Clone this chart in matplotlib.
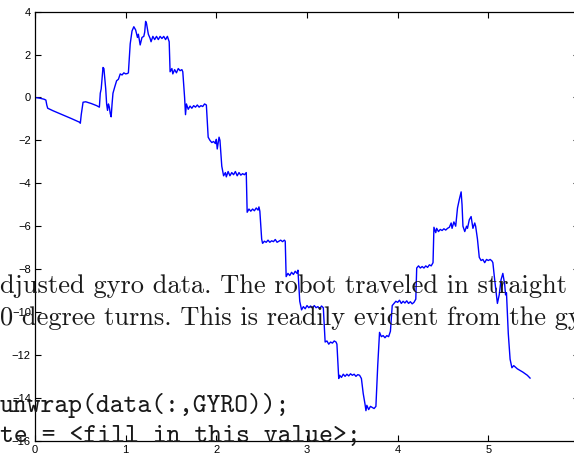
import matplotlib.pyplot as plt
from matplotlib import rc

# Gyro angle (rad) vs time
TIME = [0.00, 0.05, 0.10, 0.12, 0.13, 0.14, 0.20, 0.30, 0.40, 0.49, 0.50, 0.51, 0.53, 0.56, 0.62, 0.68,
        0.71, 0.72, 0.73, 0.75, 0.76, 0.78, 0.79, 0.80, 0.81, 0.82, 0.83, 0.84, 0.85, 0.86, 0.88, 0.90,
        0.92, 0.94, 0.96, 0.98, 1.00, 1.02, 1.03, 1.05, 1.07, 1.09, 1.11, 1.13, 1.14, 1.16, 1.18, 1.20,
        1.21, 1.22, 1.23, 1.25, 1.27, 1.28, 1.30, 1.32, 1.34, 1.36, 1.38, 1.40, 1.42, 1.44, 1.46, 1.48,
        1.49, 1.51, 1.52, 1.54, 1.56, 1.58, 1.60, 1.62, 1.63, 1.65, 1.66, 1.67, 1.69, 1.71, 1.73, 1.75,
        1.77, 1.79, 1.81, 1.83, 1.85, 1.87, 1.89, 1.91, 1.93, 1.95, 1.97, 1.99, 2.00, 2.01, 2.03, 2.04,
        2.06, 2.08, 2.10, 2.11, 2.13, 2.15, 2.17, 2.19, 2.21, 2.23, 2.25, 2.27, 2.29, 2.31, 2.33, 2.34,
        2.36, 2.38, 2.40, 2.42, 2.44, 2.46, 2.47, 2.48, 2.50, 2.51, 2.53, 2.55, 2.57, 2.59, 2.61, 2.63,
        2.65, 2.67, 2.69, 2.71, 2.73, 2.75, 2.76, 2.77, 2.79, 2.81, 2.83, 2.85, 2.87, 2.89, 2.90, 2.92,
        2.94, 2.96, 2.98, 3.00, 3.02, 3.04, 3.06, 3.08, 3.10, 3.12, 3.14, 3.16, 3.18, 3.20, 3.22, 3.24,
        3.26, 3.28, 3.30, 3.32, 3.33, 3.35, 3.36, 3.38, 3.40, 3.42, 3.44, 3.46, 3.48, 3.50, 3.52, 3.54,
        3.56, 3.58, 3.60, 3.62, 3.64, 3.65, 3.66, 3.68, 3.70, 3.72, 3.74, 3.76, 3.78, 3.80, 3.82, 3.84,
        3.86, 3.88, 3.90, 3.92, 3.94, 3.96, 3.98, 4.00, 4.02, 4.04, 4.06, 4.08, 4.10, 4.12, 4.14, 4.16,
        4.18, 4.20, 4.21, 4.23, 4.25, 4.27, 4.29, 4.31, 4.33, 4.35, 4.37, 4.39, 4.40, 4.42, 4.43, 4.45,
        4.47, 4.49, 4.51, 4.53, 4.55, 4.57, 4.59, 4.60, 4.62, 4.64, 4.66, 4.68, 4.70, 4.71, 4.72, 4.74,
        4.76, 4.77, 4.79, 4.81, 4.83, 4.85, 4.86, 4.88, 4.90, 4.92, 4.94, 4.96, 4.98, 5.00, 5.02, 5.04,
        5.05, 5.07, 5.10, 5.12, 5.14, 5.16, 5.18, 5.19, 5.20, 5.22, 5.24, 5.26, 5.28, 5.32, 5.38, 5.43,
        5.46]
ANGLE = [0.00, -0.03, -0.08, -0.12, -0.35, -0.50, -0.62, -0.80, -0.98, -1.15, -1.20, -0.80, -0.22, -0.20, -0.28, -0.38,
         -0.45, 0.20, 0.40, 1.40, 1.35, 0.40, -0.30, -0.60, -0.30, -0.45, -0.75, -0.90, -0.30, 0.20, 0.50, 0.78,
         0.85, 1.10, 1.05, 1.15, 1.10, 1.12, 1.15, 2.50, 3.10, 3.30, 3.15, 2.80, 2.95, 2.45, 2.80, 2.85,
         3.05, 3.55, 3.45, 2.95, 2.75, 2.60, 2.85, 2.70, 2.85, 2.70, 2.85, 2.75, 2.85, 2.70, 2.85, 2.60,
         1.20, 1.35, 1.10, 1.30, 1.15, 1.35, 1.25, 1.30, 1.20, 0.00, -0.80, -0.30, -0.55, -0.40, -0.50, -0.38,
         -0.45, -0.35, -0.45, -0.38, -0.42, -0.30, -0.35, -1.85, -2.00, -2.10, -2.05, -2.15, -1.95, -2.40, -1.85, -2.00,
         -3.20, -3.65, -3.50, -3.70, -3.45, -3.65, -3.50, -3.60, -3.45, -3.65, -3.50, -3.62, -3.55, -3.60, -3.50, -5.35,
         -5.20, -5.30, -5.20, -5.28, -5.15, -5.25, -5.10, -5.30, -6.60, -6.80, -6.70, -6.75, -6.65, -6.75, -6.68, -6.72,
         -6.62, -6.75, -6.70, -6.65, -6.72, -6.65, -6.70, -8.35, -8.20, -8.30, -8.15, -8.25, -8.10, -8.20, -8.05, -9.50,
         -9.90, -9.75, -9.85, -9.70, -9.80, -9.72, -9.82, -9.70, -9.80, -9.75, -9.85, -9.72, -9.80, -11.40, -11.35, -11.50,
         -11.40, -11.45, -11.35, -11.40, -11.50, -13.10, -12.95, -13.05, -12.90, -13.00, -12.90, -12.98, -12.88, -12.95, -12.90, -13.00,
         -12.92, -12.95, -13.10, -13.80, -14.30, -14.60, -14.35, -14.55, -14.40, -14.45, -14.50, -14.40, -12.50, -10.95, -11.15, -11.10,
         -11.20, -11.10, -11.15, -10.90, -9.70, -9.60, -9.50, -9.55, -9.45, -9.60, -9.50, -9.58, -9.48, -9.60, -9.52, -9.62,
         -9.55, -9.40, -7.95, -7.85, -7.95, -7.88, -7.95, -7.85, -7.92, -7.80, -7.85, -7.70, -6.05, -6.30, -6.10, -6.25,
         -6.15, -6.20, -6.12, -6.18, -6.10, -6.05, -5.85, -6.10, -5.80, -6.00, -5.15, -4.75, -4.40, -5.00, -6.00, -6.25,
         -6.00, -6.10, -5.70, -5.55, -6.10, -5.85, -6.00, -6.60, -7.45, -7.60, -7.55, -7.70, -7.55, -7.60, -7.55, -7.62,
         -7.70, -8.50, -9.60, -9.20, -8.50, -8.20, -8.70, -9.20, -9.10, -11.00, -12.20, -12.60, -12.50, -12.65, -12.80, -12.95,
         -13.08]

X_TICKS = [0, 1, 2, 3, 4, 5]
Y_TICKS = [-16, -14, -12, -10, -8, -6, -4, -2, 0, 2, 4]

# Bits of the surrounding document that show through the picture
PROSE = ["djusted gyro data. The robot traveled in straight",
         "0 degree turns. This is readily evident from the gy"]
CODE = ["unwrap(data(:,GYRO));",
        "te = <fill in this value>;"]


def plot_gyro(fig):
    # Right edge of the axes sits just past the picture, as in the reference
    ax = fig.add_axes([35 / 574, 14.3 / 455, 544 / 574, 429 / 455])
    ax.plot(TIME, ANGLE, color="#0000ff", linewidth=1.0)

    ax.set_xlim(0, 6)
    ax.set_ylim(-16, 4)
    ax.set_xticks(X_TICKS)
    ax.set_yticks(Y_TICKS)
    ax.tick_params(direction="in", length=4, width=0.8, labelsize=8,
                   top=True, right=True, pad=3)
    for spine in ax.spines.values():
        spine.set_linewidth(0.9)

    # Overlapping document text
    for i, line in enumerate(PROSE):
        fig.text(0 / 574, 1 - (293 + 32 * i) / 455, line, family="cmr10",
                 fontsize=19, color="#1a1a1a", ha="left", va="baseline")
    for i, line in enumerate(CODE):
        fig.text(0 / 574, 1 - (411.5 + 31 * i) / 455, line, family="cmtt10",
                 fontsize=19, color="#1a1a1a", ha="left", va="baseline")


def main():
    rc("font", family="Liberation Sans")
    fig = plt.figure(figsize=(5.74, 4.55), dpi=100)
    plot_gyro(fig)
    fig.savefig("out.png", dpi=100)


if __name__ == "__main__":
    main()
